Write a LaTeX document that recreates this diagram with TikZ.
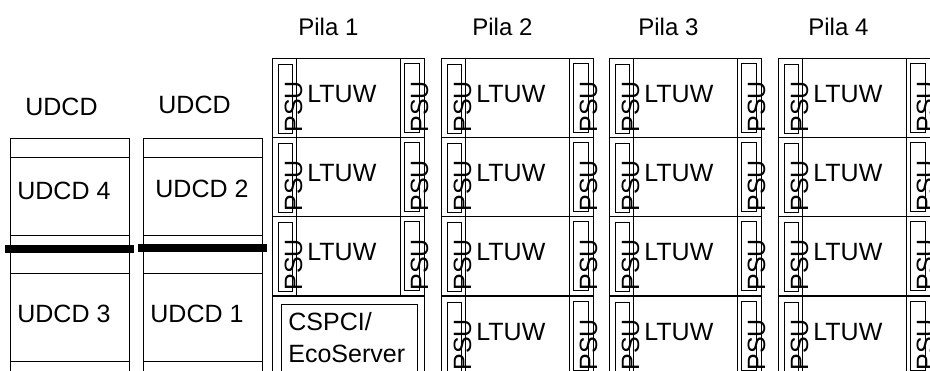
\documentclass[tikz,border=0pt]{standalone}
\usepackage{fontspec}
\setmainfont{Liberation Sans}
\usetikzlibrary{positioning}

\begin{document}
\begin{tikzpicture}[x=1pt,y=-1pt,line width=0.8pt,
    every node/.style={inner sep=0pt,font=\fontsize{25}{30}\selectfont},
    lbl/.style={anchor=base west},
    psutext/.style={rotate=90,anchor=base west},
    bar/.style={line width=8pt}]
  \useasboundingbox (0,0) rectangle (930,371);
  % UDCD racks
  \foreach \n/\x in {A/10,B/143} {
    \draw (\x,138) -- (\x,375);
    \draw (\x+119,138) -- (\x+119,375);
    \foreach \y in {138,157,235,273,361}
      \draw (\x,\y) -- (\x+119,\y);
  }
  \draw[bar] (5,249) -- (134,249);
  \draw[bar] (138,248) -- (267,248);
  \node[lbl] (udcdA) at (25,116) {UDCD};
  \node[lbl] (udcdB) at (158,114) {UDCD};
  \node[lbl] (udcd4) at (17,200) {UDCD 4};
  \node[lbl] (udcd2) at (155,198) {UDCD 2};
  \node[lbl] (udcd3) at (17,323) {UDCD 3};
  \node[lbl] (udcd1) at (150,323) {UDCD 1};
  % Pile
  \foreach \c/\x/\t in {1/272/298,2/441/472,3/609/638,4/778/808} {
    \node[lbl,font=\fontsize{24}{29}\selectfont] (pila\c) at (\t,36) {Pila \c};
    \foreach \r/\y in {1/58,2/137,3/216,4/296} {
      \ifnum\c\r=14
        \draw (\x,\y) rectangle (\x+152,\y+79);
      \else
        \draw (\x,\y) rectangle (\x+152,\y+79);
        \draw (\x+24,\y) -- (\x+24,\y+79);
        \draw (\x+128,\y) -- (\x+128,\y+79);
        \draw (\x+6,\y+6) rectangle (\x+20,\y+75);
        \draw (\x+132,\y+5) rectangle (\x+147,\y+74);
        \node[psutext] (psuL\c\r) at (\x+30,\y+75) {PSU};
        \node[psutext] (psuR\c\r) at (\x+156,\y+75) {PSU};
        \node[lbl] (ltuw\c\r) at (\x+35,\y+45) {LTUW};
      \fi
    }
  }
  % server
  \draw (281,304) rectangle (417,375);
  \node[lbl] (cspci) at (288,331) {CSPCI/};
  \node[lbl] (ecoserver) at (288,363) {EcoServer};
\end{tikzpicture}
\end{document}
